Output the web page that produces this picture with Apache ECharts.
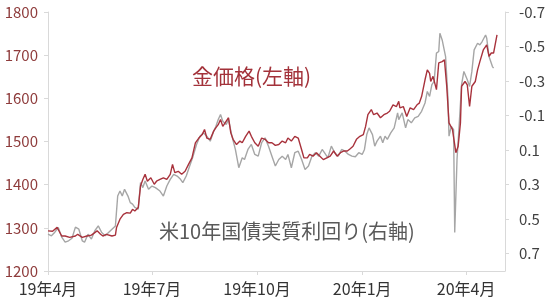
<!DOCTYPE html>
<html><head><meta charset="utf-8">
<script src="https://cdn.jsdelivr.net/npm/echarts@6/dist/echarts.min.js"></script>
<style>html,body{margin:0;padding:0;background:#fff}#c{width:550px;height:304px}</style>
</head><body><div id="c"></div>
<script>
const xTickDates = ['2019-04-01','2019-07-01','2019-10-01','2020-01-01','2020-04-01'];
const xTickLabels = ['19年4月','19年7月','19年10月','20年1月','20年4月'];
const goldLabel = '金価格(左軸)';
const yieldLabel = '米10年国債実質利回り(右軸)';

const goldDates = ['2019-04-01','2019-04-05','2019-04-09','2019-04-11','2019-04-13','2019-04-16','2019-04-20','2019-04-25','2019-04-27','2019-05-01','2019-05-05','2019-05-09','2019-05-14','2019-05-17','2019-05-19','2019-05-22','2019-05-27','2019-05-30','2019-05-31','2019-06-03','2019-06-06','2019-06-09','2019-06-12','2019-06-14','2019-06-16','2019-06-19','2019-06-21','2019-06-23','2019-06-25','2019-06-27','2019-06-30','2019-07-03','2019-07-05','2019-07-08','2019-07-11','2019-07-14','2019-07-17','2019-07-19','2019-07-21','2019-07-24','2019-07-27','2019-07-30','2019-08-02','2019-08-05','2019-08-08','2019-08-11','2019-08-14','2019-08-16','2019-08-18','2019-08-21','2019-08-24','2019-08-26','2019-08-28','2019-08-30','2019-09-01','2019-09-03','2019-09-06','2019-09-08','2019-09-10','2019-09-13','2019-09-16','2019-09-18','2019-09-21','2019-09-24','2019-09-26','2019-09-29','2019-10-02','2019-10-05','2019-10-08','2019-10-11','2019-10-14','2019-10-17','2019-10-20','2019-10-23','2019-10-26','2019-10-28','2019-10-31','2019-11-03','2019-11-06','2019-11-09','2019-11-11','2019-11-14','2019-11-16','2019-11-19','2019-11-22','2019-11-25','2019-11-28','2019-12-01','2019-12-04','2019-12-07','2019-12-10','2019-12-13','2019-12-16','2019-12-19','2019-12-21','2019-12-24','2019-12-27','2019-12-30','2020-01-02','2020-01-04','2020-01-06','2020-01-09','2020-01-11','2020-01-14','2020-01-17','2020-01-20','2020-01-23','2020-01-25','2020-01-28','2020-01-31','2020-02-02','2020-02-03','2020-02-06','2020-02-09','2020-02-12','2020-02-15','2020-02-18','2020-02-20','2020-02-22','2020-02-25','2020-02-27','2020-02-29','2020-03-01','2020-03-03','2020-03-06','2020-03-08','2020-03-11','2020-03-13','2020-03-15','2020-03-17','2020-03-20','2020-03-21','2020-03-23','2020-03-25','2020-03-27','2020-03-28','2020-03-31','2020-04-02','2020-04-04','2020-04-06','2020-04-09','2020-04-11','2020-04-13','2020-04-16','2020-04-19','2020-04-21','2020-04-23','2020-04-25','2020-04-28'];
const goldValues = [1293,1292,1301,1291,1281,1281,1278,1281,1285,1278,
1281,1283,1293,1285,1281,1285,1281,1283,1301,1320,
1331,1335,1334,1343,1339,1347,1397,1412,1424,1408,
1416,1401,1408,1412,1416,1412,1424,1447,1428,1431,
1424,1431,1447,1462,1497,1508,1516,1528,1508,1505,
1524,1532,1539,1551,1535,1543,1555,1520,1505,1493,
1501,1497,1512,1524,1512,1497,1489,1508,1505,1497,
1497,1491,1493,1501,1497,1508,1501,1512,1508,1481,
1462,1462,1470,1466,1474,1466,1458,1462,1466,1478,
1466,1474,1478,1478,1482,1489,1505,1512,1516,1535,
1562,1574,1562,1566,1555,1562,1566,1570,1585,1581,
1593,1578,1581,1558,1578,1574,1585,1589,1604,1643,
1666,1658,1639,1651,1620,1682,1685,1689,1628,1543,
1528,1532,1474,1489,1543,1628,1639,1631,1581,1628,
1639,1666,1685,1712,1724,1697,1705,1705,1747];

const yieldDates = ['2019-04-01','2019-04-04','2019-04-07','2019-04-10','2019-04-13','2019-04-16','2019-04-19','2019-04-22','2019-04-25','2019-04-28','2019-05-01','2019-05-03','2019-05-06','2019-05-09','2019-05-12','2019-05-15','2019-05-18','2019-05-21','2019-05-24','2019-05-27','2019-05-30','2019-06-01','2019-06-03','2019-06-05','2019-06-07','2019-06-10','2019-06-12','2019-06-14','2019-06-16','2019-06-19','2019-06-21','2019-06-23','2019-06-25','2019-06-28','2019-07-01','2019-07-04','2019-07-08','2019-07-11','2019-07-14','2019-07-17','2019-07-20','2019-07-23','2019-07-26','2019-07-28','2019-07-31','2019-08-03','2019-08-06','2019-08-09','2019-08-12','2019-08-15','2019-08-18','2019-08-21','2019-08-24','2019-08-26','2019-08-28','2019-08-30','2019-09-01','2019-09-04','2019-09-06','2019-09-09','2019-09-12','2019-09-15','2019-09-18','2019-09-20','2019-09-23','2019-09-26','2019-09-29','2019-10-02','2019-10-05','2019-10-08','2019-10-11','2019-10-14','2019-10-17','2019-10-20','2019-10-23','2019-10-26','2019-10-28','2019-10-31','2019-11-03','2019-11-06','2019-11-09','2019-11-12','2019-11-15','2019-11-18','2019-11-21','2019-11-24','2019-11-27','2019-11-30','2019-12-02','2019-12-05','2019-12-08','2019-12-11','2019-12-14','2019-12-17','2019-12-20','2019-12-23','2019-12-26','2019-12-29','2020-01-01','2020-01-03','2020-01-05','2020-01-07','2020-01-10','2020-01-12','2020-01-14','2020-01-17','2020-01-19','2020-01-21','2020-01-23','2020-01-26','2020-01-29','2020-02-01','2020-02-02','2020-02-05','2020-02-08','2020-02-10','2020-02-13','2020-02-16','2020-02-19','2020-02-22','2020-02-25','2020-02-27','2020-02-29','2020-03-02','2020-03-04','2020-03-06','2020-03-08','2020-03-09','2020-03-11','2020-03-14','2020-03-16','2020-03-17','2020-03-19','2020-03-21','2020-03-22','2020-03-24','2020-03-26','2020-03-28','2020-03-30','2020-04-02','2020-04-04','2020-04-06','2020-04-08','2020-04-11','2020-04-13','2020-04-15','2020-04-18','2020-04-19','2020-04-21','2020-04-24','2020-04-25'];
const yieldValues = [0.587,0.596,0.575,0.548,0.604,0.633,0.625,0.610,0.546,0.558,
0.625,0.633,0.587,0.615,0.567,0.539,0.577,0.596,0.577,0.558,
0.539,0.366,0.337,0.366,0.327,0.366,0.404,0.413,0.432,0.442,
0.288,0.317,0.279,0.327,0.308,0.317,0.337,0.366,0.308,0.269,
0.240,0.250,0.269,0.288,0.250,0.192,0.135,0.067,0.019,0.000,
0.019,0.048,-0.009,-0.038,-0.077,-0.106,-0.067,-0.048,-0.077,0.019,
0.096,0.202,0.144,0.154,0.096,0.067,0.125,0.135,0.057,0.029,
0.077,0.135,0.192,0.154,0.135,0.154,0.125,0.202,0.115,0.106,
0.154,0.212,0.192,0.135,0.115,0.135,0.096,0.125,0.144,0.077,
0.115,0.135,0.096,0.106,0.125,0.135,0.138,0.115,0.125,0.096,
0.010,-0.029,0.010,0.077,0.048,0.019,0.057,0.019,0.038,0.000,
-0.029,-0.116,-0.077,-0.116,-0.029,-0.077,-0.058,-0.087,-0.096,-0.125,
-0.173,-0.240,-0.211,-0.279,-0.298,-0.462,-0.471,-0.577,-0.538,-0.442,
-0.211,0.019,-0.038,-0.019,0.577,0.154,-0.058,-0.279,-0.356,-0.308,
-0.269,-0.356,-0.481,-0.519,-0.510,-0.529,-0.567,-0.548,-0.442,-0.384,-0.375];

function ts(s){const p=s.split('-').map(Number);return Date.UTC(p[0],p[1]-1,p[2]);}
function zip(d,v){const n=Math.min(d.length,v.length);const out=[];for(let i=0;i<n;i++)out.push([ts(d[i]),v[i]]);return out;}
const tickTs = xTickDates.map(ts);
const FONT = '"Noto Sans CJK JP", "Noto Sans", sans-serif';

const chart = echarts.init(document.getElementById('c'), null, {renderer:'canvas'});
chart.setOption({
  animation:false,
  backgroundColor:'#ffffff',
  grid:{left:48,right:45,top:12,bottom:33,containLabel:false},
  xAxis:{
    type:'value',
    min:ts('2019-04-01'), max:ts('2020-05-05'),
    axisLine:{show:true,onZero:false,lineStyle:{color:'#d9d9d9',width:1}},
    axisTick:{show:true,customValues:tickTs,length:4,lineStyle:{color:'#d9d9d9'}},
    splitLine:{show:false},
    axisLabel:{customValues:tickTs,color:'#333333',fontSize:16,fontFamily:FONT,margin:10,
      formatter:function(v){const i=tickTs.indexOf(v);return i>=0?xTickLabels[i]:'';}}
  },
  yAxis:[{
    type:'value',min:1200,max:1800,interval:100,position:'left',
    axisLine:{show:true,onZero:false,lineStyle:{color:'#d9d9d9'}},
    axisTick:{show:true,length:4,lineStyle:{color:'#d9d9d9'}},
    splitLine:{show:false},
    axisLabel:{color:'#8e3b3b',fontSize:15,fontFamily:FONT,margin:10,
      formatter:function(v){return String(v);}}
  },{
    type:'value',min:-0.7,max:0.8,interval:0.2,position:'right',inverse:true,
    axisLine:{show:true,onZero:false,lineStyle:{color:'#d9d9d9'}},
    axisTick:{show:true,length:4,lineStyle:{color:'#d9d9d9'}},
    splitLine:{show:false},
    axisLabel:{color:'#404040',fontSize:15,fontFamily:FONT,margin:14,showMaxLabel:false,
      formatter:function(v){return (Math.round(v*10)/10).toFixed(1);}}
  }],
  graphic:[
    {type:'text',left:192,top:66,style:{text:goldLabel,fill:'#a3323a',fontSize:21,fontFamily:FONT}},
    {type:'text',left:159,top:221,style:{text:yieldLabel,fill:'#595959',fontSize:20,fontFamily:FONT}}
  ],
  series:[{
    name:'実質利回り',type:'line',yAxisIndex:1,data:zip(yieldDates,yieldValues),
    showSymbol:false,symbol:'none',lineStyle:{color:'#a6a6a6',width:1.4},itemStyle:{color:'#a6a6a6'}
  },{
    name:'金価格',type:'line',yAxisIndex:0,data:zip(goldDates,goldValues),
    showSymbol:false,symbol:'none',lineStyle:{color:'#a8323c',width:1.4},itemStyle:{color:'#a8323c'}
  }]
});
</script></body></html>
